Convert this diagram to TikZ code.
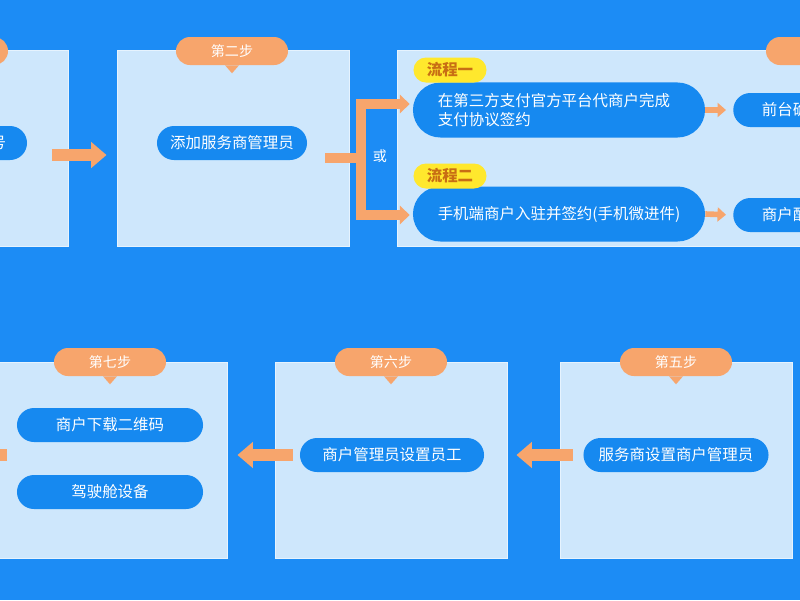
\documentclass[tikz,border=0pt]{standalone}
\usepackage{fontspec}
\setmainfont{Noto Sans CJK SC}
\usetikzlibrary{shapes.misc,arrows.meta,calc}
\definecolor{bgblue}{RGB}{28,140,245}
\definecolor{panelblue}{RGB}{206,231,252}
\definecolor{pillblue}{RGB}{22,137,240}
\definecolor{steporange}{RGB}{247,165,108}
\definecolor{flowyellow}{RGB}{255,232,45}
\definecolor{flowtext}{RGB}{200,110,20}
\tikzset{
  panel/.style={fill=panelblue,draw=panelblue!50!white,line width=0.6pt,
    minimum width=5.8cm,minimum height=4.9cm,inner sep=0pt},
  steptag/.style={rounded rectangle,fill=steporange,text=white,
    font=\fontsize{10}{12}\selectfont,minimum width=2.8cm,minimum height=0.7cm,inner sep=0pt},
  pill/.style={rounded rectangle,fill=pillblue,text=white,
    font=\fontsize{11}{13}\selectfont,minimum height=0.85cm,inner sep=0pt},
  flowtag/.style={rounded rectangle,fill=flowyellow,text=flowtext,
    font=\bfseries\fontsize{11}{13}\selectfont,minimum width=1.825cm,minimum height=0.625cm,inner sep=0pt},
  bigarrow/.style={draw=steporange,line width=9pt,-{Triangle[length=11pt,width=18pt]}},
  smallarrow/.style={draw=steporange,line width=4pt,-{Triangle[length=6pt,width=10pt]}},
  fork/.style={draw=steporange,line width=6.5pt},
}
\begin{document}
\begin{tikzpicture}[x=0.025cm,y=-0.025cm]
  \useasboundingbox (0,0) rectangle (800,600);
  \clip (0,0) rectangle (800,600);
  \fill[bgblue] (0,0) rectangle (800,600);

  % upper row
  \node[panel] (step1) at (-48,148) {};
  \node[panel] (step2) at (233,148) {};
  \node[panel,minimum width=15cm,anchor=west] (step3) at (397,148) {};
  \node[steptag] (tag1) at (-48,51) {};
  \node[steptag] (tag2) at (232,51) {第二步};
  \node[steptag] (tag3) at (822,51) {};

  \node[pill,minimum width=3.75cm] (account) at (-48,143) {注册服务商账号};
  \node[pill,minimum width=3.75cm] (admin) at (232,143) {添加服务商管理员};

  \node[pill,minimum width=7.3cm,minimum height=1.375cm,align=left,text width=6.05cm]
    (flow1) at (559,110) {在第三方支付官方平台代商户完成\\支付协议签约};
  \node[flowtag] (lab1) at (450,70) {流程一};
  \node[pill,minimum width=7.3cm,minimum height=1.375cm]
    (flow2) at (559,214) {手机端商户入驻并签约(手机微进件)};
  \node[flowtag] (lab2) at (450,176) {流程二};

  \node[pill,minimum width=3.75cm,anchor=west] (confirm) at (733,110) {前台确认签约};
  \node[pill,minimum width=3.75cm,anchor=west] (config) at (733,215) {商户配置信息};

  \draw[bigarrow] ($(step1.east)+(-16,7)$) -- ($(step2.west)+(-10,7)$);
  \coordinate (split) at (361,158);
  \draw[fork] ($(admin.east)+(18,15)$) -- (split);
  \draw[fork,{Triangle[length=7pt,width=13pt]}-{Triangle[length=7pt,width=13pt]}]
    ($(flow1.west)+(-3,-6)$) -| (split) |- ($(flow2.west)+(-3,1)$);
  \node[font=\fontsize{10}{11}\selectfont,text=white] (or) at (380,156) {或};
  \draw[smallarrow,shorten >=5pt] (flow1.east) -- (confirm.west);
  \draw[smallarrow,shorten >=5pt] (flow2.east) -- (config.west);

  % lower row
  \node[panel] (step7) at (111,460) {};
  \node[panel] (step6) at (391,460) {};
  \node[panel] (step5) at (676,460) {};
  \node[steptag] (tag7) at (110,362) {第七步};
  \node[steptag] (tag6) at (391,362) {第六步};
  \node[steptag] (tag5) at (676,362) {第五步};

  \node[pill,minimum width=4.625cm] (setadmin) at (676,455) {服务商设置商户管理员};
  \node[pill,minimum width=4.6cm] (setstaff) at (392,455) {商户管理员设置员工};
  \node[pill,minimum width=4.65cm] (qrcode) at (110,425) {商户下载二维码};
  \node[pill,minimum width=4.65cm] (device) at (110,492) {驾驶舱设备};

  \draw[bigarrow] ($(step5.west)+(13,-5)$) -- ($(step6.east)+(9,-5)$);
  \draw[bigarrow] ($(step6.west)+(18,-5)$) -- ($(step7.east)+(10,-5)$);
  \coordinate (offleft) at (-60,455);
  \draw[bigarrow] ($(step7.west)+(12,-5)$) -- (offleft);

  \foreach \t in {tag1,tag2,tag3,tag7,tag6,tag5}
    \fill[steporange] ($(\t.south)+(-7,0)$) -- ($(\t.south)+(7,0)$) -- ($(\t.south)+(0,8)$) -- cycle;
\end{tikzpicture}
\end{document}
